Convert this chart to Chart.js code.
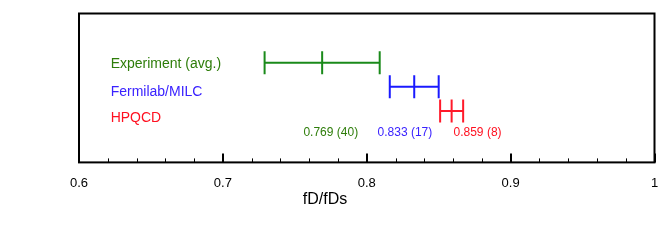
<!DOCTYPE html>
<html>
<head>
<meta charset="utf-8">
<script src="https://cdn.jsdelivr.net/npm/chart.js@4/dist/chart.umd.min.js"></script>
<style>
  body { margin: 0; background: #fff; }
</style>
</head>
<body>
<canvas id="chart" width="668" height="242"></canvas>
<script>
const names = ['Experiment (avg.)', 'Fermilab/MILC', 'HPQCD'];
const centers = [0.769, 0.833, 0.859];
const errors = [0.040, 0.017, 0.008];
const valueLabels = ['0.769 (40)', '0.833 (17)', '0.859 (8)'];
const rows = [3, 2, 1];
const tickLabels = {0.6: '0.6', 0.7: '0.7', 0.8: '0.8', 0.9: '0.9', 1: '1'};
const barColors = ['#1a8a1a', '#1a1aff', '#ff1a2a'];
const textColors = ['#2e7d0a', '#3a22ff', '#ff1020'];

const font = '"Liberation Sans", Arial, sans-serif';

let datasets = [];
for (let i = 0; i < names.length; i++) {
  // horizontal bar with end caps
  datasets.push({
    type: 'line',
    label: names[i],
    data: [{x: centers[i] - errors[i], y: rows[i]}, {x: centers[i] + errors[i], y: rows[i]}],
    borderColor: barColors[i],
    borderWidth: 2,
    pointStyle: 'line',
    pointRotation: 90,
    pointRadius: 11.5,
    pointBorderWidth: 2,
    pointBorderColor: barColors[i],
    fill: false
  });
  // central value tick
  datasets.push({
    type: 'scatter',
    label: names[i] + ' central',
    data: [{x: centers[i], y: rows[i]}],
    pointStyle: 'line',
    pointRotation: 90,
    pointRadius: 11.5,
    pointBorderWidth: 2,
    pointBorderColor: barColors[i],
    borderColor: barColors[i]
  });
}

// frame, inward ticks and the text labels
const decorations = {
  id: 'decorations',
  afterDraw(chart) {
    const {ctx, chartArea: a, scales: {x, y}} = chart;
    ctx.save();
    ctx.strokeStyle = '#000';
    ctx.lineWidth = 2;
    ctx.strokeRect(a.left, a.top, a.right - a.left, a.bottom - a.top);

    for (let k = 30; k <= 50; k++) {
      const px = Math.round(x.getPixelForValue(k / 50));
      const major = k % 5 == 0;
      ctx.lineWidth = major ? 2 : 1;
      ctx.beginPath();
      ctx.moveTo(px + (major ? 0 : 0.5), a.bottom);
      ctx.lineTo(px + (major ? 0 : 0.5), a.bottom - (major ? 9 : 4));
      ctx.stroke();
    }

    const nameY = [2.96, 1.79, 0.70];
    ctx.font = '14px ' + font;
    ctx.textBaseline = 'middle';
    ctx.textAlign = 'left';
    for (let i = 0; i < names.length; i++) {
      ctx.fillStyle = textColors[i];
      ctx.fillText(names[i], x.getPixelForValue(0.622), y.getPixelForValue(nameY[i]));
    }

    const valueX = [0.775, 0.8265, 0.877];
    ctx.font = '12px ' + font;
    ctx.textAlign = 'center';
    for (let i = 0; i < valueLabels.length; i++) {
      ctx.fillStyle = textColors[i];
      ctx.fillText(valueLabels[i], x.getPixelForValue(valueX[i]), y.getPixelForValue(0.12));
    }

    ctx.fillStyle = '#000';
    ctx.font = '16px ' + font;
    ctx.fillText('fD/fDs', 325, 200);
    ctx.restore();
  }
};

new Chart(document.getElementById('chart'), {
  type: 'scatter',
  data: {datasets: datasets},
  options: {
    responsive: false,
    animation: false,
    events: [],
    layout: {padding: {left: 79, right: 11, top: 13, bottom: 38}},
    plugins: {
      legend: {display: false},
      tooltip: {enabled: false}
    },
    scales: {
      x: {
        type: 'linear',
        min: 0.6,
        max: 1,
        afterFit: (scale) => { scale.paddingLeft = 0; scale.paddingRight = 0; },
        ticks: {
          stepSize: 0.1,
          padding: 13,
          color: '#000',
          font: {family: font, size: 13},
          callback: (v) => tickLabels[Math.round(v * 10) / 10]
        },
        grid: {display: false, drawTicks: false},
        border: {display: false}
      },
      y: {
        display: false,
        min: -1.13,
        max: 5.04
      }
    }
  },
  plugins: [decorations]
});
</script>
</body>
</html>
